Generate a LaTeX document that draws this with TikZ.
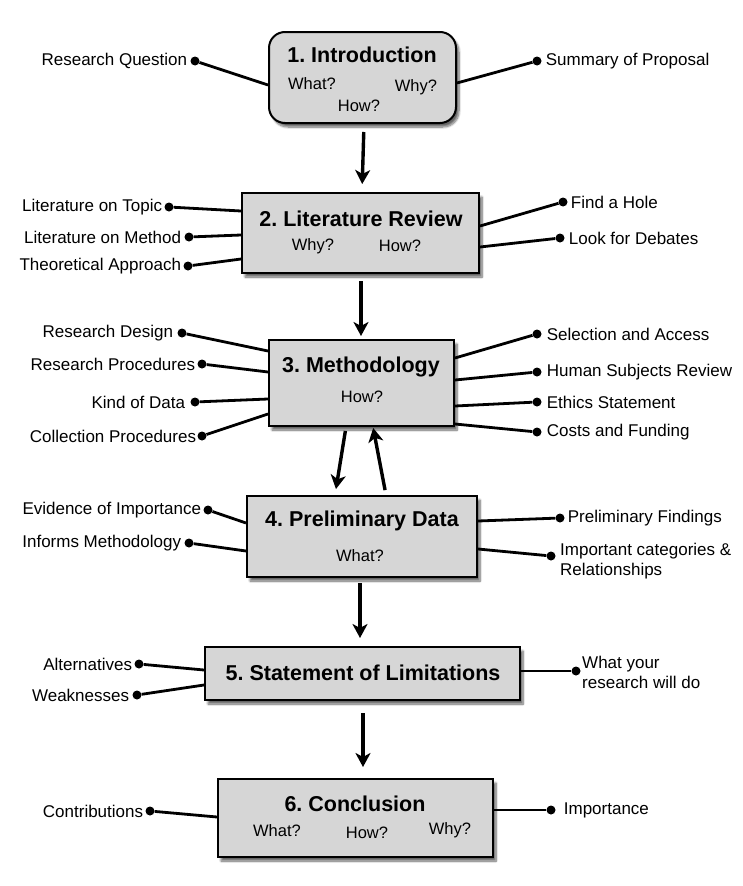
\documentclass[tikz,border=0pt]{standalone}
\usepackage{fontspec}
\setmainfont{Liberation Sans}
\frenchspacing
\usetikzlibrary{arrows.meta,positioning,shadows.blur}

\tikzset{
  stagebox/.style={draw,line width=2pt,fill=black!16,inner sep=0pt,
    blur shadow={shadow xshift=3pt,shadow yshift=-4pt,shadow blur steps=8,shadow opacity=60}},
  stagetitle/.style={font=\fontsize{21.5}{24}\selectfont\bfseries,inner sep=0pt},
  question/.style={font=\fontsize{16.5}{18}\selectfont,inner sep=0pt},
  item/.style={font=\fontsize{17}{20}\selectfont,inner sep=0pt,align=left},
  dot/.style={circle,fill,inner sep=0pt,minimum size=9pt},
  spoke/.style={line width=2.8pt},
  flow/.style={line width=3.4pt,-{Stealth[length=14pt,width=15pt,inset=4pt]}}
}

\begin{document}
\begin{tikzpicture}[x=1pt,y=-1pt]
 \useasboundingbox (0,0) rectangle (742,886);

 % 1. Introduction
 \node[stagebox,rounded corners=16pt,minimum width=187pt,minimum height=91pt] (intro) at (362.5,77.5) {};
 \node[stagetitle] (introT) at (362,55) {1. Introduction};
 \node[question] (introWhat) at (312,84) {What?};
 \node[question] (introWhy) at (416,87) {Why?};
 \node[question] (introHow) at (359,106) {How?};
 \node[dot] (rq) at (195,61) {};
 \node[item,left=3pt of rq] (rqT) {Research Question};
 \draw[spoke] (rq) -- (intro.west |- 0,85);
 \node[dot] (sp) at (537,61) {};
 \node[item,right=4pt of sp] (spT) {Summary of Proposal};
 \draw[spoke] (sp) -- (intro.east |- 0,83);

 % 2. Literature Review
 \node[stagebox,minimum width=237pt,minimum height=80pt] (lit) at (360.5,233) {};
 \node[stagetitle] (litT) at (361,219) {2. Literature Review};
 \node[question] (litWhy) at (313,246) {Why?};
 \node[question] (litHow) at (400,246) {How?};
 \node[dot] (lt) at (169,207) {};
 \node[item,left=2pt of lt] (ltT) {Literature on Topic};
 \draw[spoke] (lt) -- (lit.west |- 0,211);
 \node[dot] (lm) at (189,237) {};
 \node[item,left=3pt of lm] (lmT) {Literature on Method};
 \draw[spoke] (lm) -- (lit.west |- 0,235);
 \node[dot] (ta) at (188,266) {};
 \node[item,left=2pt of ta] (taT) {Theoretical Approach};
 \draw[spoke] (ta) -- (lit.west |- 0,259);
 \node[dot] (fh) at (563,202) {};
 \node[item,right=3pt of fh] (fhT) {Find a Hole};
 \draw[spoke] (fh) -- (lit.east |- 0,226);
 \node[dot] (ld) at (560,238) {};
 \node[item,right=4pt of ld] (ldT) {Look for Debates};
 \draw[spoke] (ld) -- (lit.east |- 0,247);

 % 3. Methodology
 \node[stagebox,minimum width=185pt,minimum height=86pt] (meth) at (361.5,383) {};
 \node[stagetitle] (methT) at (361,367) {3. Methodology};
 \node[question] (methHow) at (362,397) {How?};
 \node[dot] (rd) at (182,333) {};
 \node[item,left=4pt of rd] (rdT) {Research Design};
 \draw[spoke] (rd) -- (meth.west |- 0,351);
 \node[dot] (rp) at (202,364) {};
 \node[item,left=2pt of rp] (rpT) {Research Procedures};
 \draw[spoke] (rp) -- (meth.west |- 0,372);
 \node[dot] (kd) at (195,402) {};
 \node[item,left=5pt of kd] (kdT) {Kind of Data};
 \draw[spoke] (kd) -- (meth.west |- 0,399);
 \node[dot] (cp) at (202,436) {};
 \node[item,left=1pt of cp] (cpT) {Collection Procedures};
 \draw[spoke] (cp) -- (meth.west |- 0,414);
 \node[dot] (sa) at (537,334) {};
 \node[item,right=5pt of sa] (saT) {Selection and Access};
 \draw[spoke] (sa) -- (meth.east |- 0,358);
 \node[dot] (hs) at (537,372) {};
 \node[item,right=5pt of hs] (hsT) {Human Subjects Review};
 \draw[spoke] (hs) -- (meth.east |- 0,380);
 \node[dot] (es) at (537,402) {};
 \node[item,right=5pt of es] (esT) {Ethics Statement};
 \draw[spoke] (es) -- (meth.east |- 0,406);
 \node[dot] (cf) at (537,432) {};
 \node[item,right=5pt of cf] (cfT) {Costs and Funding};
 \draw[spoke] (cf) -- (meth.east |- 0,424);

 % 4. Preliminary Data
 \node[stagebox,minimum width=230pt,minimum height=81pt] (prelim) at (362,536.5) {};
 \node[stagetitle] (prelimT) at (362,521) {4. Preliminary Data};
 \node[question] (prelimWhat) at (360,556) {What?};
 \node[dot] (ei) at (208,510) {};
 \node[item,left=2pt of ei] (eiT) {Evidence of Importance};
 \draw[spoke] (ei) -- (prelim.west |- 0,523);
 \node[dot] (im) at (189,543) {};
 \node[item,left=3pt of im] (imT) {Informs Methodology};
 \draw[spoke] (im) -- (prelim.west |- 0,551);
 \node[dot] (pf) at (560,518) {};
 \node[item,right=3pt of pf] (pfT) {Preliminary Findings};
 \draw[spoke] (pf) -- (prelim.east |- 0,521);
 \node[dot] (ic) at (551,556) {};
 \node[item,anchor=west] (icT) at (560,561) {Important categories \&\\Relationships};
 \draw[spoke] (ic) -- (prelim.east |- 0,549);

 % 5. Statement of Limitations
 \node[stagebox,minimum width=315pt,minimum height=53pt] (limit) at (362.5,673.5) {};
 \node[stagetitle] (limitT) at (363,673) {5. Statement of Limitations};
 \node[dot] (al) at (139,664) {};
 \node[item,left=2pt of al] (alT) {Alternatives};
 \draw[spoke] (al) -- (limit.west |- 0,670);
 \node[dot] (wk) at (137,695) {};
 \node[item,left=3pt of wk] (wkT) {Weaknesses};
 \draw[spoke] (wk) -- (limit.west |- 0,685);
 \node[dot] (wy) at (576,671) {};
 \node[item,anchor=west] (wyT) at (582,672) {What your\\research will do};
 \draw[spoke] (wy) -- (limit.east |- 0,671);

 % 6. Conclusion
 \node[stagebox,minimum width=275pt,minimum height=78pt] (concl) at (355.5,818) {};
 \node[stagetitle] (conclT) at (355,804) {6. Conclusion};
 \node[question] (conclWhat) at (277,831) {What?};
 \node[question] (conclHow) at (367,833) {How?};
 \node[question] (conclWhy) at (450,830) {Why?};
 \node[dot] (co) at (150,811) {};
 \node[item,left=2pt of co] (coT) {Contributions};
 \draw[spoke] (co) -- (concl.west |- 0,817);
 \node[dot] (ip) at (551,810) {};
 \node[item,right=8pt of ip] (ipT) {Importance};
 \draw[spoke] (ip) -- (concl.east |- 0,810);

 % flow between stages
 \draw[flow,shorten <=8pt,shorten >=8pt] (intro.south -| 364,0) -- (lit.north -| 362,0);
 \draw[flow,shorten <=7pt,shorten >=3pt] (lit.south -| 361,0) -- (meth.north -| 361,0);
 \draw[flow,shorten <=4pt,shorten >=6pt] (meth.south -| 346,0) -- (prelim.north -| 335,0);
 \draw[flow,shorten <=5pt,shorten >=1pt] (prelim.north -| 386,0) -- (meth.south -| 373,0);
 \draw[flow,shorten <=5pt,shorten >=8pt] (prelim.south -| 360,0) -- (limit.north -| 360,0);
 \draw[flow,shorten <=12pt,shorten >=11pt] (limit.south -| 363,0) -- (concl.north -| 363,0);
\end{tikzpicture}
\end{document}
